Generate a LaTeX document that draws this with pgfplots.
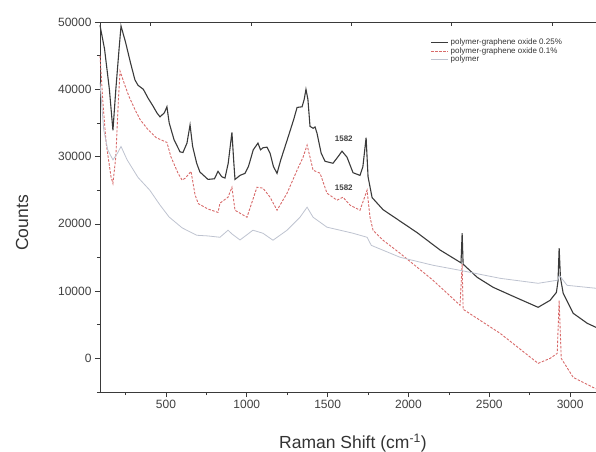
\documentclass[border=0pt]{standalone}
\usepackage{fontspec}
\setmainfont{Liberation Sans}
\usepackage{pgfplots}
\pgfplotsset{compat=1.18}
\definecolor{cBlack}{HTML}{3A3A3A}
\definecolor{cRed}{HTML}{D86A6A}
\definecolor{cGray}{HTML}{BEC3D0}
\begin{document}
\begin{tikzpicture}
\useasboundingbox (-100pt,-59pt) rectangle (496pt,392pt);
\begin{axis}[
  scale only axis, width=496pt, height=370pt,
  xmin=92, xmax=3160, ymin=-5000, ymax=50000,
  clip=false,
  xtick={500,1000,1500,2000,2500,3000},
  minor xtick={250,750,1250,1750,2250,2750},
  ytick={0,10000,20000,30000,40000,50000},
  minor ytick={-5000,5000,15000,25000,35000,45000},
  scaled y ticks=false,
  xtick pos=bottom, ytick pos=left,
  tick align=outside,
  major tick length=5pt, minor tick length=3pt,
  every tick/.style={cBlack, line width=0.6pt},
  axis line style={cBlack, line width=0.9pt},
  /pgf/number format/assume math mode=true,
  /pgf/number format/1000 sep={},
  tick label style={font=\fontsize{12}{14}\selectfont, text=black!75},
  xlabel={Raman Shift (cm\textsuperscript{-1})},
  ylabel={Counts},
  label style={font=\fontsize{17.5}{20}\selectfont, text=black!80},
  xlabel style={at={(axis description cs:0.51,-0.138)}, anchor=center},
  ylabel style={at={(axis description cs:-0.157,0.457)}, anchor=center},
  legend style={at={(rel axis cs:0.66,0.965)}, anchor=north west, draw=none, fill=none,
    font=\fontsize{8}{9}\selectfont, row sep=-3pt, text=black!80},
  legend cell align=left,
]
\addplot[cBlack, line width=1.1pt] coordinates {
(92,49500) (120,46000) (150,40000) (172,33900) (190,40000) (210,46000) (222,49400)
(250,47000) (280,44000) (308,41400) (327,40600) (360,40000) (389,38700) (420,37500)
(444,36500) (463,35900) (490,36500) (506,37400) (520,35000) (550,32500) (587,30700)
(605,30600) (630,32000) (649,34700) (665,31500) (690,29000) (710,27700) (760,26600)
(800,26700) (822,27800) (845,27000) (865,26800) (885,29000) (908,33600) (920,29000)
(927,26600) (958,27200) (989,27500) (1010,28500) (1040,31000) (1069,32000) (1085,31000)
(1100,31300) (1125,31400) (1144,30500) (1165,28500) (1187,27500) (1210,29500) (1249,32400)
(1290,35500) (1311,37300) (1342,37400) (1355,38500) (1366,40000) (1378,38500) (1391,34500)
(1410,34200) (1422,34400) (1434,33500) (1460,30500) (1484,29300) (1533,29000) (1565,30000)
(1589,30800) (1620,29900) (1657,27600) (1700,27200) (1718,28500) (1738,32800) (1750,27000)
(1775,23900) (1843,22100) (2053,18700) (2196,16100) (2325,14200) (2332,18600) (2338,14000)
(2425,12050) (2524,10560) (2650,9200) (2802,7590) (2876,8630) (2915,9800) (2925,11500)
(2932,16400) (2940,12000) (2957,9670) (3019,6700) (3106,5210) (3160,4610)
};
\addlegendentry{polymer-graphene oxide 0.25\%}
\addplot[cRed, line width=0.9pt, dash pattern=on 2.5pt off 1.5pt] coordinates {
(92,45000) (110,38000) (130,32000) (160,27000) (172,26000) (190,30000) (205,38000)
(216,42700) (240,41000) (270,39000) (308,37000) (340,35500) (389,34000) (440,32800)
(506,32100) (530,30000) (575,27500) (600,26500) (620,26800) (655,27800) (680,24300)
(700,23000) (760,22200) (822,21700) (834,23070) (884,23960) (908,25440) (927,22020)
(958,21580) (1001,20980) (1063,25440) (1100,25300) (1144,23960) (1187,22020) (1249,24550)
(1311,27970) (1348,29910) (1373,31700) (1391,29910) (1410,27970) (1453,27530) (1496,24550)
(1558,23510) (1595,23960) (1639,22770) (1700,22020) (1744,25000) (1762,20980) (1781,19050)
(1843,17560) (1948,15620) (2152,11610) (2319,7900) (2332,14000) (2338,7300) (2567,3720)
(2802,-740) (2876,0) (2920,740) (2932,8600) (2945,0) (3019,-2830) (3142,-4320) (3160,-4500)
};
\addlegendentry{polymer-graphene oxide 0.1\%}
\addplot[cGray, line width=0.8pt] coordinates {
(92,41000) (115,34000) (140,31000) (172,29500) (200,30500) (222,31500) (260,29500)
(327,26900) (400,25000) (463,22800) (520,21000) (600,19400) (690,18300) (760,18200)
(834,18000) (884,19050) (908,18500) (958,17600) (1038,19050) (1100,18600) (1162,17560)
(1249,19050) (1329,20980) (1373,22470) (1410,20980) (1496,19500) (1577,19050) (1657,18600)
(1744,18000) (1770,16800) (1948,15030) (2152,13840) (2319,13090) (2567,11900) (2802,11160)
(2920,11610) (2935,12300) (2981,10860) (3160,10420)
};
\addlegendentry{polymer}
\node[font=\fontsize{8}{9}\selectfont\bfseries, text=black!75] at (axis cs:1600,32700) {1582};
\node[font=\fontsize{8}{9}\selectfont\bfseries, text=black!75] at (axis cs:1600,25400) {1582};
\draw[cBlack, line width=1pt] (rel axis cs:0,1) -- (rel axis cs:1,1);
\end{axis}
\begin{axis}[
  scale only axis, width=496pt, height=370pt,
  xmin=92, xmax=3160, ymin=-5000, ymax=50000,
  ytick=\empty, xtick pos=top,
  xtick={401,1031,1648,2265,2889}, xticklabels={},
  minor xtick={},
  xtick align=inside, major tick length=4pt,
  every tick/.style={cBlack, line width=0.8pt},
  axis line style={draw=none},
]
\end{axis}
\end{tikzpicture}
\end{document}
